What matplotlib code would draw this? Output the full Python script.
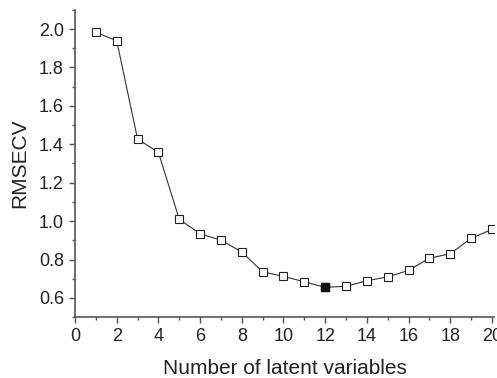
import numpy as np
import matplotlib.pyplot as plt
from matplotlib.ticker import MultipleLocator

plt.rcParams['font.family'] = ['Liberation Sans', 'DejaVu Sans']

# number of latent variables and cross validation error
n_lv = [1, 2, 3, 4, 5, 6, 7, 8, 9, 10, 11, 12, 13, 14, 15, 16, 17, 18, 19, 20]
rmsecv = [1.983, 1.939, 1.427, 1.358, 1.009, 0.934, 0.901, 0.839, 0.736, 0.712,
          0.684, 0.655, 0.661, 0.689, 0.710, 0.743, 0.807, 0.830, 0.910, 0.957]
best_lv = 12

fig = plt.figure(figsize=(4.97, 3.78), dpi=100)
ax = fig.add_axes([0.151, 0.161, 0.843, 0.813])

ax.plot(n_lv, rmsecv, color='#333333', lw=0.8, marker='s', ms=5.5,
        mfc='white', mec='#222222', mew=0.8)
i = n_lv.index(best_lv)
ax.plot([n_lv[i]], [rmsecv[i]], marker='s', ms=5.5, color='#111111', ls='none')

ax.set_xlim(0, 20.1)
ax.set_ylim(0.5, 2.1)
ax.xaxis.set_major_locator(MultipleLocator(2))
ax.xaxis.set_minor_locator(MultipleLocator(1))
ax.yaxis.set_major_locator(MultipleLocator(0.2))
ax.yaxis.set_minor_locator(MultipleLocator(0.1))
ax.yaxis.set_major_formatter(plt.FormatStrFormatter('%.1f'))

for s in ['top', 'right']:
    ax.spines[s].set_visible(False)
for s in ['left', 'bottom']:
    ax.spines[s].set_color('#555555')
    ax.spines[s].set_linewidth(1.2)

ax.tick_params(which='both', direction='out', color='#555555', width=1)
ax.tick_params(which='major', length=4, labelsize=13, pad=4, labelcolor='#222222')
ax.tick_params(which='minor', length=2.5)

ax.set_xlabel('Number of latent variables', fontsize=15, color='#222222', labelpad=10)
ax.set_ylabel('RMSECV', fontsize=15, color='#222222', labelpad=7)

fig.savefig('out.png', dpi=100)
